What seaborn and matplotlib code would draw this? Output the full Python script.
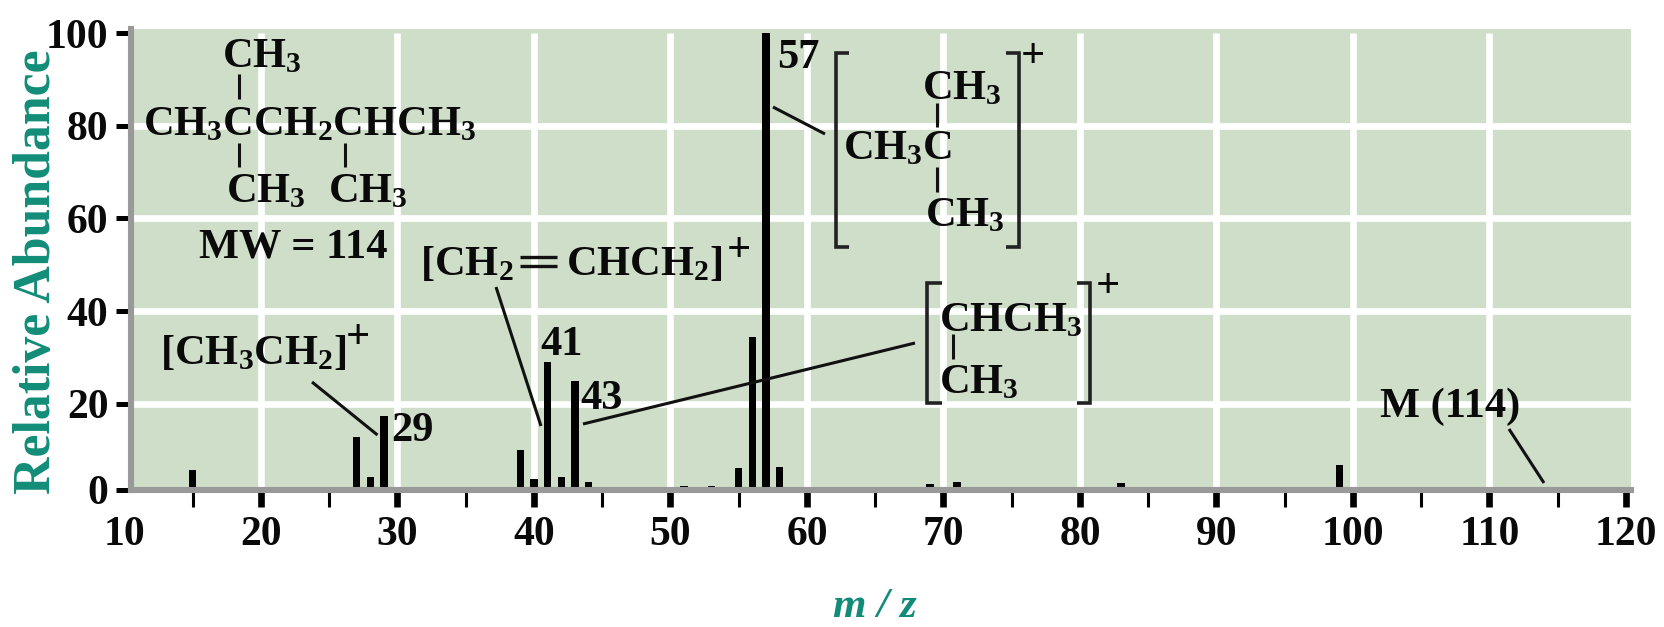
import matplotlib
matplotlib.use("Agg")
import matplotlib.pyplot as plt
from matplotlib.lines import Line2D
import seaborn as sns

# Values, on the scale of the 20-100 gridlines
mz = [15, 26, 27, 28, 29, 39, 40, 41, 42, 43, 44, 51, 53, 55, 56, 57, 58, 69, 71, 83, 99, 114]
abundance = [5.7, 1.9, 12.8, 4.3, 17.3, 10, 3.8, 29.1, 4.3, 25, 3.2, 2.2, 2.2, 6.1, 34.4, 100, 6.4, 2.6, 3.1, 2.9, 6.8, 1.6]
x_major = [10, 20, 30, 40, 50, 60, 70, 80, 90, 100, 110, 120]
x_minor = [15, 25, 35, 45, 55, 65, 75, 85, 95, 105, 115]
y_grid = [20, 40, 60, 80]
axis_floor = 1.4   # the printed "0" sits at the baseline, slightly above true zero
y_ticks = [axis_floor, 20, 40, 60, 80, 100]
y_labels = ["0", "20", "40", "60", "80", "100"]

GREEN = "#cfdec8"
TEAL = "#128c78"
GRAY = "#999999"
INK = "#0a0a0a"
FS = 30.5

sns.set_theme(style="white")
plt.rcParams["font.family"] = ["Liberation Serif", "DejaVu Serif"]
plt.rcParams["font.weight"] = "bold"
plt.rcParams["mathtext.fontset"] = "custom"
plt.rcParams["mathtext.bf"] = "Liberation Serif:bold"
plt.rcParams["mathtext.rm"] = "Liberation Serif:bold"
plt.rcParams["mathtext.default"] = "bf"

W, H = 1664, 627
fig = plt.figure(figsize=(W / 100, H / 100), dpi=100)
L, R, T, B = 124.5, 1631, 29, 490
ax = fig.add_axes([L / W, 1 - B / H, (R - L) / W, (B - T) / H])
ax.set_facecolor("none")

sns.barplot(x=mz, y=abundance, native_scale=True, color="black", saturation=1,
            width=0.54, linewidth=0, edgecolor="black", ax=ax, zorder=3)

x_left, x_right = 10.48, 120.37
ax.set_xlim(10, x_right)
ax.set_ylim(axis_floor, 100.9)
ax.axvspan(x_left, x_right, color=GREEN, lw=0, zorder=0.1)
ax.vlines(x_major[1:-1], axis_floor, 100, color="white", lw=4.8, zorder=0.5)
ax.hlines(y_grid, x_left, x_right, color="white", lw=4.8, zorder=0.5)

for s in ("top", "right"):
    ax.spines[s].set_visible(False)
ax.spines["left"].set_position(("data", x_left))
ax.spines["left"].set_bounds(axis_floor, 100.9)
ax.spines["bottom"].set_bounds(x_left, x_right)
for s in ("left", "bottom"):
    ax.spines[s].set_color(GRAY)
    ax.spines[s].set_linewidth(4.4)
    ax.spines[s].set_zorder(4)

ax.set_xticks(x_major)
ax.set_xticklabels([str(v) for v in x_major])
ax.set_xticks(x_minor, minor=True)
ax.set_yticks(y_ticks)
ax.set_yticklabels(y_labels)
ax.set_xlabel("")
ax.set_ylabel("")
ax.tick_params(axis="x", which="major", bottom=True, length=12, width=4.8, color="black",
               pad=7, labelsize=30, labelcolor=INK)
ax.tick_params(axis="x", which="minor", bottom=True, length=12, width=2.2, color="black")
ax.tick_params(axis="y", which="major", left=True, length=10.8, width=3.6, color="black",
               pad=5.5, labelsize=30, labelcolor=INK)
ax.xaxis.get_major_ticks()[0].tick1line.set_visible(False)


def P(x, y):
    return x / W, 1 - y / H


def label(x, y, s, **kw):
    fig.text(*P(x, y), s, fontsize=kw.pop("fontsize", FS), fontweight="bold", color=INK,
             ha=kw.pop("ha", "left"), va=kw.pop("va", "baseline"), **kw)


def formula(x, y, s):
    label(x, y + 2, s)


def line(xs, ys, lw=2.2, color="#111111"):
    fig.add_artist(Line2D([x / W for x in xs], [1 - y / H for y in ys], color=color, lw=lw,
                          solid_capstyle="butt", solid_joinstyle="miter",
                          transform=fig.transFigure))


def bracket(x_spine, x_end, y0, y1):
    line([x_end, x_spine, x_spine, x_end], [y0, y0, y1, y1], lw=2.6, color="#222222")


def plus(x, y):
    label(x, y, "+", ha="center", va="center", fontsize=FS)


# Axis titles
fig.text(*P(37, 272), "Relative Abundance", rotation=90, ha="center", va="center",
         fontsize=37.3, fontweight="bold", color=TEAL)
fig.text(*P(875, 607), "m / z", ha="center", va="center", fontsize=31, fontweight="bold",
         fontstyle="italic", color=TEAL)

# Full molecule
formula(222, 65, r"$\mathbf{CH_3}$")
formula(143, 133, r"$\mathbf{CH_3CCH_2CHCH_3}$")
formula(226, 200, r"$\mathbf{CH_3}$")
formula(328, 200, r"$\mathbf{CH_3}$")
label(199, 257, "MW = 114")
line([238.5, 238.5], [74, 99])
line([238.5, 238.5], [143, 167])
line([345, 345], [143, 167])

# Allyl fragment
formula(420, 273, r"$\mathbf{[CH_2}$")
formula(566, 273, r"$\mathbf{CHCH_2]}$")
plus(739, 251)
line([520, 557], [257, 257], lw=2.4)
line([520, 557], [266, 266], lw=2.4)
line([496, 541], [287, 426])

# Ethyl fragment
formula(160, 362, r"$\mathbf{[CH_3CH_2]}$")
plus(358, 338)
line([312, 377.5], [382, 435])

# Peak numbers
label(391, 441, "29")
label(540, 355, "41")
label(580, 409, "43")
label(777, 68, "57")

# Isopropyl fragment
line([583, 915], [424, 343])
bracket(927, 942, 283, 403)
bracket(1090, 1077, 283, 403)
plus(1108, 287)
formula(939, 329, r"$\mathbf{CHCH_3}$")
formula(939, 391, r"$\mathbf{CH_3}$")
line([953, 953], [334, 359])

# tert-Butyl fragment
line([773, 825], [107, 134])
bracket(836, 849, 53, 247)
bracket(1019, 1006, 53, 247)
plus(1033, 57)
formula(922, 97, r"$\mathbf{CH_3}$")
formula(843, 157, r"$\mathbf{CH_3C}$")
formula(925, 224, r"$\mathbf{CH_3}$")
line([937, 937], [103, 127])
line([937, 937], [167, 192])

# Molecular ion
label(1380, 417, "M (114)")
line([1509, 1544], [429, 483])

fig.savefig("out.png", dpi=100, facecolor="white")
